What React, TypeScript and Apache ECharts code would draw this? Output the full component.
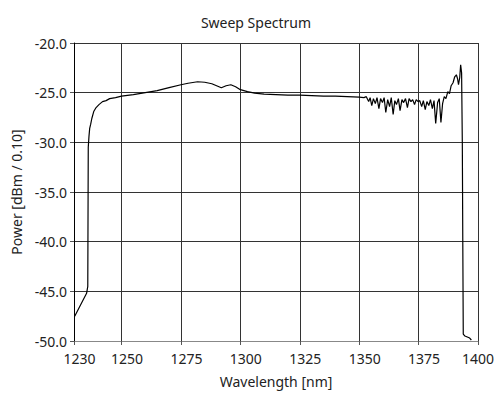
import React, { useEffect, useRef } from "react";
import * as echarts from "echarts";

const chartTitle = "Sweep Spectrum";
const xAxisName = "Wavelength [nm]";
const yAxisName = "Power [dBm / 0.10]";
const xTickValues = [1230, 1250, 1275, 1300, 1325, 1350, 1375, 1400];

const wavelengths = [
  1230.3, 1235.3, 1235.8, 1236.0, 1236.3, 1236.6, 1237.0, 1237.5, 1238.3, 1239.3,
  1240.5, 1242.0, 1243.5, 1245, 1247.5, 1250, 1255, 1260, 1265, 1270,
  1275, 1278, 1282, 1285, 1288, 1290, 1292, 1294, 1296, 1298,
  1300, 1303, 1306, 1310, 1315, 1320, 1325, 1330, 1335, 1340,
  1345, 1350, 1352,
  1353, 1354, 1354.6, 1355.3, 1356, 1356.8, 1357.5, 1358.3, 1359, 1359.8,
  1360.5, 1361.2, 1362, 1362.8, 1363.5, 1364.3, 1365, 1365.7, 1366.5, 1367.2,
  1368, 1368.7, 1369.5, 1370.3, 1371, 1371.8, 1372.5, 1373.3, 1374, 1374.8,
  1375.5, 1376.3, 1377, 1377.8, 1378.5, 1379.3, 1380, 1380.8, 1381.5, 1382.2,
  1383, 1383.7, 1384.4, 1385.1, 1385.8, 1386.5, 1387.3, 1388, 1388.7, 1389.5,
  1390.2, 1390.9, 1391.4, 1391.8, 1392.3, 1392.7, 1393.1, 1393.4, 1393.6, 1393.8,
  1394.5, 1395.5, 1396.5, 1397.2,
];

const power = [
  -47.5, -45.2, -44.5, -30.5, -29.4, -28.6, -28.2, -27.6, -26.9, -26.5,
  -26.2, -25.9, -25.8, -25.6, -25.5, -25.35, -25.2, -25.0, -24.8, -24.5,
  -24.2, -24.05, -23.9, -23.95, -24.1, -24.3, -24.5, -24.3, -24.2, -24.4,
  -24.7, -24.9, -25.05, -25.15, -25.2, -25.25, -25.25, -25.3, -25.35, -25.35,
  -25.4, -25.45, -25.5,
  -25.4, -25.9, -25.5, -26.3, -25.6, -26.1, -25.5, -26.6, -25.6, -26.0,
  -25.5, -27.0, -25.7, -26.4, -25.5, -27.2, -25.8, -26.2, -25.6, -26.8,
  -25.7, -26.0, -25.6, -26.5, -25.6, -25.9, -25.7, -26.2, -25.7, -25.9,
  -25.8, -26.4, -25.8, -26.7, -25.9, -26.3, -25.7, -26.6, -25.8, -28.1,
  -26.0, -25.6, -28.0, -26.1, -25.4, -25.6, -24.9, -25.1, -24.3, -24.0,
  -23.4, -23.2, -23.6, -24.2, -23.5, -22.2, -23.0, -30, -40, -49.3,
  -49.5, -49.6, -49.7, -49.9,
];

const textColor = "#222";
const fontFamily = "'Noto Sans', 'Open Sans', sans-serif";
const fs = 14;

export default function App() {
  const ref = useRef<HTMLDivElement>(null);
  useEffect(() => {
    document.body.style.margin = "0";
    if (!ref.current) return;
    const chart = echarts.init(ref.current, null, { renderer: "svg" });
    const data = wavelengths.map((w, i) => [w, power[i]]);
    chart.setOption({
      animation: false,
      backgroundColor: "#fff",
      title: {
        text: chartTitle,
        left: 251,
        top: 10,
        textAlign: "center",
        textStyle: { fontSize: fs, fontWeight: "normal", color: textColor, fontFamily },
      },
      grid: { left: 74, right: 26, top: 43, bottom: 51, containLabel: false },
      xAxis: {
        type: "value",
        min: 1230,
        max: 1400,
        name: xAxisName,
        nameLocation: "middle",
        nameGap: 33,
        nameTextStyle: { fontSize: fs, color: textColor, fontFamily },
        axisLine: { show: true, lineStyle: { color: "#888", width: 1 } },
        axisTick: {
          show: true,
          inside: false,
          length: 4,
          customValues: xTickValues,
          lineStyle: { color: "#555" },
        },
        axisLabel: {
          customValues: xTickValues,
          margin: 10,
          fontSize: fs,
          color: textColor,
          fontFamily,
          formatter: (v: number) => (v === 1400 ? `{b|${v}}` : `{a|${v}}`),
          rich: {
            a: { padding: [0, 0, 0, 11], fontSize: fs, color: textColor, fontFamily },
            b: { fontSize: fs, color: textColor, fontFamily },
          },
        },
        splitLine: { show: true, lineStyle: { color: "#333", width: 1 } },
      },
      yAxis: {
        type: "value",
        min: -50,
        max: -20,
        interval: 5,
        name: yAxisName,
        nameLocation: "middle",
        nameGap: 45,
        nameRotate: 90,
        nameTextStyle: { fontSize: fs, color: textColor, fontFamily },
        axisLine: { show: true, lineStyle: { color: "#000", width: 1 } },
        axisTick: { show: true, inside: false, length: 4, lineStyle: { color: "#555" } },
        axisLabel: {
          margin: 7,
          fontSize: fs,
          color: textColor,
          fontFamily,
          formatter: (v: number) => v.toFixed(1),
        },
        splitLine: { show: true, lineStyle: { color: "#333", width: 1 } },
      },
      series: [
        {
          type: "line",
          data,
          showSymbol: false,
          symbol: "none",
          lineStyle: { color: "#000", width: 1.2 },
          z: 5,
        },
      ],
    });
    return () => chart.dispose();
  }, []);
  return <div ref={ref} style={{ width: 504, height: 393 }} />;
}
